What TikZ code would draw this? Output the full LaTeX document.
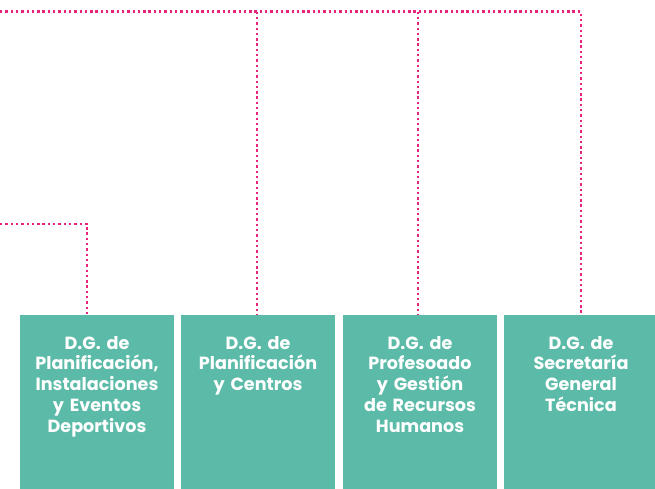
\documentclass[tikz,border=0pt]{standalone}
\usepackage{fontspec}
\setmainfont{Poppins}[BoldFont={Poppins Bold}]
\usepackage{xcolor}
\definecolor{dgteal}{HTML}{5CBBA8}
\definecolor{dgpink}{HTML}{E8237C}

\begin{document}
\begin{tikzpicture}[x=1pt,y=-1pt,
    dg box/.style={rectangle,fill=dgteal,minimum width=154pt,minimum height=174pt,inner sep=0pt,anchor=north},
    dg text/.style={anchor=north,inner sep=0pt,text width=152pt,align=center,text=white,font=\bfseries\fontsize{17.6}{20.7}\selectfont},
    link/.style={draw=dgpink,line width=2.4pt,dash pattern=on 2.4pt off 2.9pt}]

            \useasboundingbox (0,0) rectangle (655,489);

            \coordinate (top0) at (0,11.7);
            \coordinate (low0) at (0,224);
            \coordinate (low1) at (87,224);

            \node[dg box] (ins) at (97,315) {};
            \node[dg box] (pc)  at (258,315) {};
            \node[dg box] (rh)  at (420,315) {};
            \node[dg box] (sgt) at (581,315) {};

            % drop points on the top line
            \coordinate (top1) at (257,11.7);
            \coordinate (top2) at (418,11.7);

            % dotted links
            \draw[link] (top0) -- (top0 -| sgt.north) -- (sgt.north);
            \draw[link] (top1) -- (top1 |- pc.north);
            \draw[link] (top2) -- (top2 |- rh.north);
            \draw[link] (low0) -- (low1) -- (low1 |- ins.north);

            \node[dg text] (ins text) at ([yshift=-21pt]ins.north) {D.G. de\\Planificación,\\Instalaciones\\y Eventos\\Deportivos};
            \node[dg text] (pc text)  at ([yshift=-21pt]pc.north)  {D.G. de\\Planificación\\y Centros};
            \node[dg text] (rh text)  at ([yshift=-21pt]rh.north)  {D.G. de\\Profesoado\\y Gestión\\de Recursos\\Humanos};
            \node[dg text] (sgt text) at ([yshift=-21pt]sgt.north) {D.G. de\\Secretaría\\General\\Técnica};

        \end{tikzpicture}
\end{document}
